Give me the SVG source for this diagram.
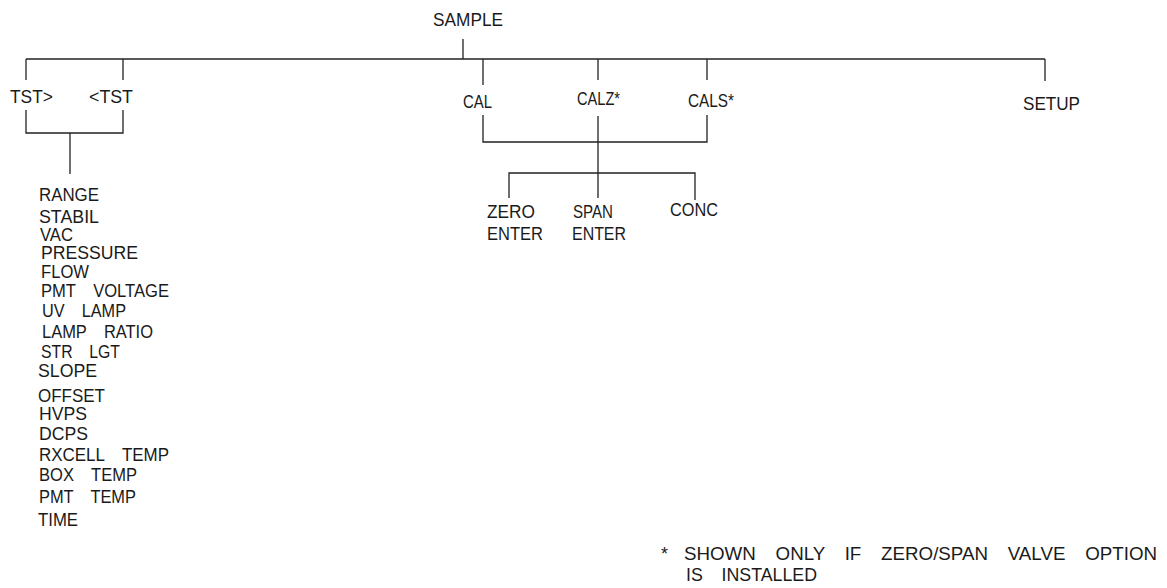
<svg xmlns="http://www.w3.org/2000/svg" width="1167" height="588" viewBox="0 0 1167 588">
<style>
text{font-family:"Liberation Sans",Arial,sans-serif;font-size:18px;fill:#1a1a1a;word-spacing:14px}
.c{stroke:#222;stroke-width:1.3;fill:none}
</style>
<rect width="1167" height="588" fill="#fff"/>
<g id="connectors" class="c">
<path d="M463 39V59"/>
<path d="M26 59H1045"/>
<path d="M26 59V80"/>
<path d="M123 59V80"/>
<path d="M483 59V85"/>
<path d="M598 59V80"/>
<path d="M707 59V80"/>
<path d="M1045 59V81"/>
<path d="M26 110V133H123V110"/>
<path d="M70 133V174"/>
<path d="M483 115V142H707V115"/>
<path d="M598 116V198"/>
<path d="M509 198V173H695V200"/>
</g>
<g id="sample"><text x="433" y="26" textLength="70" lengthAdjust="spacingAndGlyphs">SAMPLE</text></g>
<g id="tst-next"><text x="10" y="103" textLength="43" lengthAdjust="spacingAndGlyphs">TST&gt;</text></g>
<g id="tst-prev"><text x="89" y="103" textLength="44" lengthAdjust="spacingAndGlyphs">&lt;TST</text></g>
<g id="cal"><text x="463" y="108" textLength="29" lengthAdjust="spacingAndGlyphs">CAL</text></g>
<g id="calz"><text x="577" y="105" textLength="43" lengthAdjust="spacingAndGlyphs">CALZ*</text></g>
<g id="cals"><text x="688" y="107" textLength="46" lengthAdjust="spacingAndGlyphs">CALS*</text></g>
<g id="setup"><text x="1023" y="110" textLength="57" lengthAdjust="spacingAndGlyphs">SETUP</text></g>
<g id="zero-enter"><text x="487" y="218" textLength="48" lengthAdjust="spacingAndGlyphs">ZERO</text><text x="487" y="240" textLength="56" lengthAdjust="spacingAndGlyphs">ENTER</text></g>
<g id="span-enter"><text x="573" y="218" textLength="40" lengthAdjust="spacingAndGlyphs">SPAN</text><text x="572" y="240" textLength="54" lengthAdjust="spacingAndGlyphs">ENTER</text></g>
<g id="conc"><text x="670" y="216" textLength="48" lengthAdjust="spacingAndGlyphs">CONC</text></g>
<g id="test-list">
<text x="39" y="201" textLength="60" lengthAdjust="spacingAndGlyphs">RANGE</text>
<text x="39" y="223" textLength="60" lengthAdjust="spacingAndGlyphs">STABIL</text>
<text x="40" y="241" textLength="33" lengthAdjust="spacingAndGlyphs">VAC</text>
<text x="41" y="259" textLength="97" lengthAdjust="spacingAndGlyphs">PRESSURE</text>
<text x="41" y="278" textLength="48" lengthAdjust="spacingAndGlyphs">FLOW</text>
<text x="41" y="297" textLength="128" lengthAdjust="spacingAndGlyphs">PMT VOLTAGE</text>
<text x="42" y="317" textLength="84" lengthAdjust="spacingAndGlyphs">UV LAMP</text>
<text x="42" y="338" textLength="111" lengthAdjust="spacingAndGlyphs">LAMP RATIO</text>
<text x="41" y="358" textLength="79" lengthAdjust="spacingAndGlyphs">STR LGT</text>
<text x="38" y="377" textLength="59" lengthAdjust="spacingAndGlyphs">SLOPE</text>
<text x="38" y="402" textLength="67" lengthAdjust="spacingAndGlyphs">OFFSET</text>
<text x="39" y="420" textLength="48" lengthAdjust="spacingAndGlyphs">HVPS</text>
<text x="39" y="440" textLength="49" lengthAdjust="spacingAndGlyphs">DCPS</text>
<text x="39" y="461" textLength="130" lengthAdjust="spacingAndGlyphs">RXCELL TEMP</text>
<text x="39" y="481" textLength="98" lengthAdjust="spacingAndGlyphs">BOX TEMP</text>
<text x="39" y="503" textLength="97" lengthAdjust="spacingAndGlyphs">PMT TEMP</text>
<text x="38" y="526" textLength="40" lengthAdjust="spacingAndGlyphs">TIME</text>
</g>
<g id="footnote">
<text x="661" y="560">*</text>
<text x="684" y="560" textLength="473" lengthAdjust="spacingAndGlyphs">SHOWN ONLY IF ZERO/SPAN VALVE OPTION</text>
<text x="686" y="581" textLength="131" lengthAdjust="spacingAndGlyphs">IS INSTALLED</text>
</g>
</svg>
